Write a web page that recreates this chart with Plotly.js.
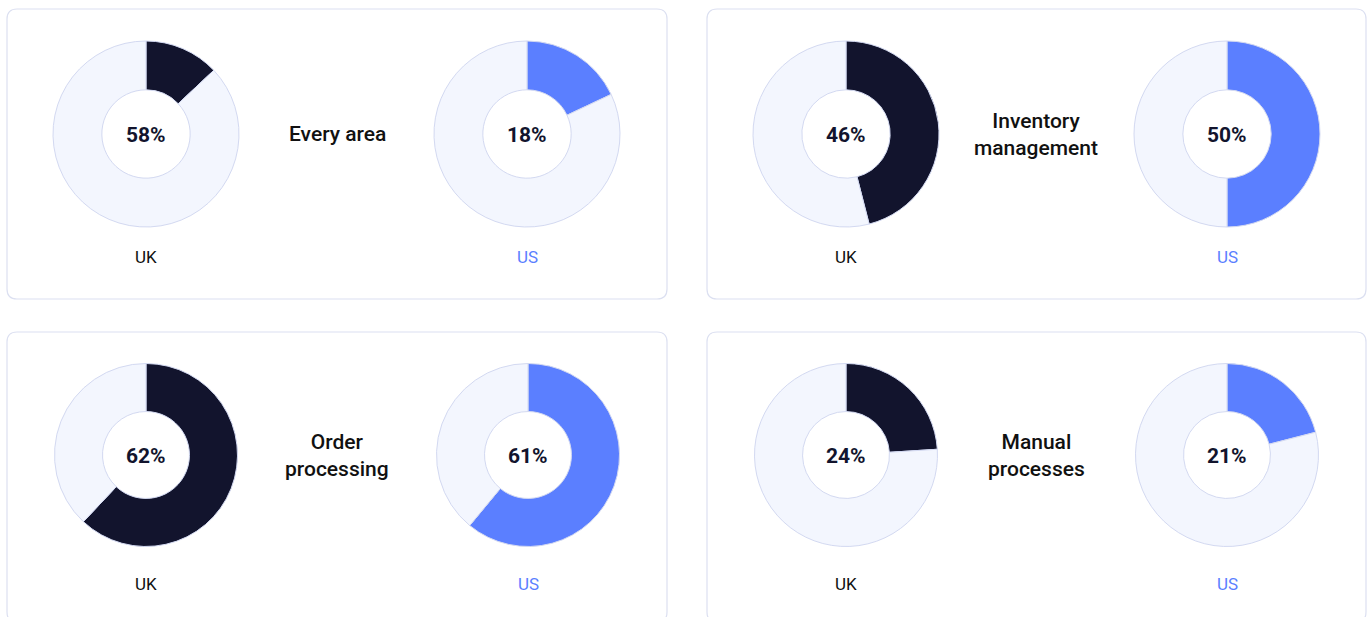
<!DOCTYPE html>
<html>
<head>
<meta charset="utf-8">
<script src="https://cdn.plot.ly/plotly-3.0.1.min.js"></script>
<style>
html,body{margin:0;padding:0;background:#ffffff;}
#chart{width:1371px;height:617px;}
</style>
</head>
<body>
<div id="chart"></div>
<script>
// ---- data ----
const categories = ["Every area", "Inventory<br>management", "Order<br>processing", "Manual<br>processes"];
const regions = ["UK", "US"];
const ukSlice = [13, 46, 62, 24];        // drawn share of the UK ring
const usSlice = [18, 50, 61, 21];        // drawn share of the US ring
const ukLabel = ["58%", "46%", "62%", "24%"];
const usLabel = ["18%", "50%", "61%", "21%"];

// ---- layout helpers ----
const W = 1371, H = 617;
const fx = x => x / W;
const fy = y => 1 - y / H;
const colors = { UK: "#12142d", US: "#5b7fff", rest: "#f3f6fe", line: "#d3d9f1", text: "#12142d" };

// panel geometry (pixels)
const panels = [
  { x0: 7, y0: 9, x1: 667, y1: 299 },
  { x0: 707, y0: 9, x1: 1366, y1: 299 },
  { x0: 7, y0: 332, x1: 667, y1: 622 },
  { x0: 707, y0: 332, x1: 1366, y1: 622 }
];
const donutCenters = [
  { uk: [146, 134], us: [527, 134], r: 93, title: [337, 134], lab: 257 },
  { uk: [846, 134], us: [1227, 134], r: 93, title: [1036, 134], lab: 257 },
  { uk: [146, 455], us: [528, 455], r: 91.5, title: [337, 455], lab: 584 },
  { uk: [846, 455], us: [1227, 455], r: 91.5, title: [1036, 455], lab: 584 }
];

function roundedRect(p, r) {
  const X = v => fx(v).toFixed(5), Y = v => fy(v).toFixed(5);
  return `M${X(p.x0 + r)},${Y(p.y0)} L${X(p.x1 - r)},${Y(p.y0)} Q${X(p.x1)},${Y(p.y0)} ${X(p.x1)},${Y(p.y0 + r)} ` +
    `L${X(p.x1)},${Y(p.y1 - r)} Q${X(p.x1)},${Y(p.y1)} ${X(p.x1 - r)},${Y(p.y1)} ` +
    `L${X(p.x0 + r)},${Y(p.y1)} Q${X(p.x0)},${Y(p.y1)} ${X(p.x0)},${Y(p.y1 - r)} ` +
    `L${X(p.x0)},${Y(p.y0 + r)} Q${X(p.x0)},${Y(p.y0)} ${X(p.x0 + r)},${Y(p.y0)} Z`;
}

const traces = [];
const annotations = [];
const font = "Roboto, 'Open Sans', sans-serif";

function addDonut(center, r, value, color, label, region, labY) {
  traces.push({
    type: "pie",
    values: [value, 100 - value],
    labels: [region, "rest"],
    marker: { colors: [color, colors.rest], line: { color: colors.line, width: 1 } },
    hole: 0.475,
    sort: false,
    direction: "clockwise",
    rotation: 0,
    textinfo: "none",
    hoverinfo: "none",
    showlegend: false,
    domain: { x: [fx(center[0] - r), fx(center[0] + r)], y: [fy(center[1] + r), fy(center[1] - r)] }
  });
  annotations.push({
    xref: "paper", yref: "paper", x: fx(center[0]), y: fy(center[1] + 1),
    xanchor: "center", yanchor: "middle", showarrow: false,
    text: label, font: { family: font, size: 21, color: colors.text, weight: 700 }
  });
  annotations.push({
    xref: "paper", yref: "paper", x: fx(center[0]), y: fy(labY),
    xanchor: "center", yanchor: "middle", showarrow: false,
    text: region, font: { family: font, size: 17, color: region === "UK" ? "#111111" : colors.US, weight: 400 }
  });
}

categories.forEach((cat, i) => {
  const g = donutCenters[i];
  addDonut(g.uk, g.r, ukSlice[i], colors.UK, ukLabel[i], regions[0], g.lab);
  addDonut(g.us, g.r, usSlice[i], colors.US, usLabel[i], regions[1], g.lab);
  annotations.push({
    xref: "paper", yref: "paper", x: fx(g.title[0]), y: fy(g.title[1]),
    xanchor: "center", yanchor: "middle", showarrow: false, align: "center",
    text: cat, font: { family: font, size: 21, color: "#111111", weight: 500 }
  });
});

const shapes = panels.map(p => ({
  type: "path", xref: "paper", yref: "paper", path: roundedRect(p, 10),
  line: { color: "#dce0f1", width: 1.2 }, fillcolor: "rgba(0,0,0,0)", layer: "below"
}));

Plotly.newPlot("chart", traces, {
  width: W, height: H,
  margin: { l: 0, r: 0, t: 0, b: 0 },
  paper_bgcolor: "#ffffff",
  showlegend: false,
  shapes: shapes,
  annotations: annotations
}, { staticPlot: true, displayModeBar: false });
</script>
</body>
</html>
